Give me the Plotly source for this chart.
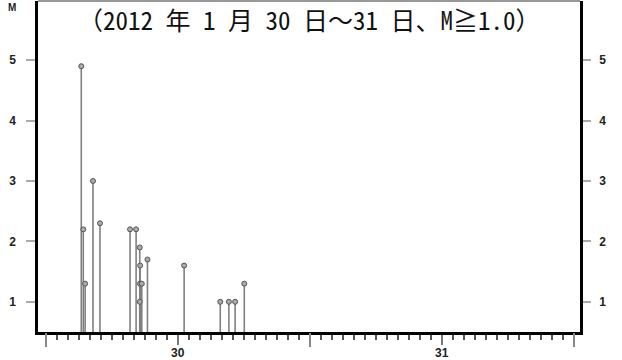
import plotly.graph_objects as go

# Data (JST times, Jan 30 2012)
times = [
    "2012-01-30 03:14", "2012-01-30 03:25", "2012-01-30 03:35", "2012-01-30 04:18",
    "2012-01-30 04:56", "2012-01-30 07:40", "2012-01-30 08:13", "2012-01-30 08:33",
    "2012-01-30 08:35", "2012-01-30 08:34", "2012-01-30 08:44", "2012-01-30 08:33",
    "2012-01-30 09:15", "2012-01-30 12:35", "2012-01-30 15:52", "2012-01-30 16:39",
    "2012-01-30 17:13", "2012-01-30 18:03",
]
mags = [4.9, 2.2, 1.3, 3.0, 2.3, 2.2, 2.2, 1.9, 1.6, 1.3, 1.3, 1.0, 1.7, 1.6, 1.0, 1.0, 1.0, 1.3]

x_range = ["2012-01-29 23:18", "2012-02-01 00:34"]
y_base = 0.5
y_range = [0.5, 5.98]
day_label_vals = ["2012-01-30 12:00", "2012-01-31 12:00"]
day_label_text = ["30", "31"]
midnight_vals = ["2012-01-30 00:00", "2012-01-31 00:00", "2012-02-01 00:00"]
y_ticks = [1, 2, 3, 4, 5]
title_text = "（2012 年 1 月 30 日～31 日、M≧1.0）"

tick_font = dict(family="Liberation Sans, Arial, sans-serif", size=12, color="#222", weight="bold")

fig = go.Figure()
fig.add_trace(go.Scatter(
    x=times, y=mags, mode="markers",
    marker=dict(size=5, color="#aaaaaa", line=dict(color="#555555", width=1)),
    error_y=dict(type="data", symmetric=False, array=[0] * len(mags),
                 arrayminus=[m - y_base for m in mags],
                 thickness=1.6, width=0, color="#808080"),
    showlegend=False, cliponaxis=False,
))
# dummy traces to instantiate overlay axes
fig.add_trace(go.Scatter(x=[None], y=[None], xaxis="x2", yaxis="y", showlegend=False))
fig.add_trace(go.Scatter(x=[None], y=[None], xaxis="x", yaxis="y2", showlegend=False))

fig.update_layout(
    width=622, height=360,
    margin=dict(l=38, r=42, t=1, b=28, autoexpand=False),
    paper_bgcolor="white", plot_bgcolor="white",
    xaxis=dict(
        type="date", range=x_range, showgrid=False, zeroline=False, automargin=False,
        showline=True, linecolor="black", linewidth=2.5,
        tickmode="array", tickvals=day_label_vals, ticktext=day_label_text,
        ticks="outside", ticklen=10, tickwidth=1.5, tickcolor="#777",
        tickfont=tick_font, ticklabelstandoff=-2,
        minor=dict(dtick=3600000, tick0="2012-01-30 00:00", ticks="outside",
                   ticklen=5, tickwidth=1.5, tickcolor="#555", showgrid=False),
    ),
    xaxis2=dict(
        type="date", range=x_range, overlaying="x", anchor="y", side="bottom",
        showgrid=False, zeroline=False, showline=False, automargin=False,
        tickmode="array", tickvals=midnight_vals, ticktext=["", "", ""],
        ticks="outside", ticklen=14, tickwidth=1.5, tickcolor="#888",
        showticklabels=False,
    ),
    yaxis=dict(
        range=y_range, showgrid=False, zeroline=False, automargin=False,
        showline=True, linecolor="black", linewidth=2.5,
        tickmode="array", tickvals=y_ticks,
        ticks="outside", ticklen=9, tickwidth=2, tickcolor="#aaa",
        tickfont=tick_font, ticklabelstandoff=8,
    ),
    yaxis2=dict(
        range=y_range, overlaying="y", anchor="x", side="right",
        showgrid=False, zeroline=False, automargin=False,
        showline=True, linecolor="black", linewidth=2.5,
        tickmode="array", tickvals=y_ticks,
        ticks="outside", ticklen=8, tickwidth=2, tickcolor="#aaa",
        tickfont=tick_font, ticklabelstandoff=6,
    ),
    shapes=[dict(type="line", xref="paper", yref="paper", x0=0, x1=1, y0=1, y1=1,
                 line=dict(color="#333", width=1.2))],
    annotations=[
        dict(text=title_text, xref="paper", yref="paper", x=0.5, y=1, yanchor="middle",
             xanchor="center", yshift=-18, showarrow=False,
             font=dict(family="Noto Sans Mono CJK JP, Noto Sans CJK JP, sans-serif",
                       size=25, color="#111")),
        dict(text="M", xref="paper", yref="paper", x=0, xshift=-26, y=1, yanchor="top",
             yshift=1, xanchor="center", showarrow=False,
             font=dict(family="Liberation Sans, Arial, sans-serif", size=10, color="#222",
                       weight="bold")),
    ],
)

fig.write_html("out.html", config={"displayModeBar": False},
               post_script="document.body.style.margin='0';")
